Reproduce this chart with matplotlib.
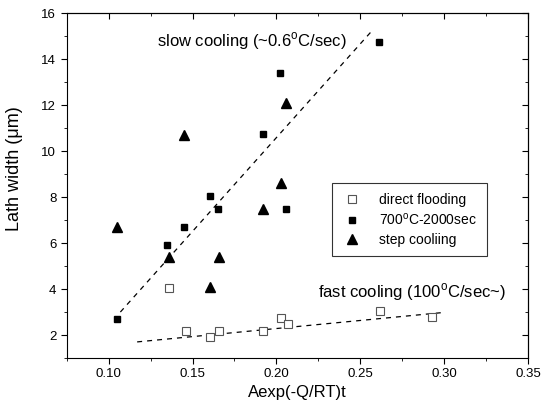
import matplotlib
matplotlib.use('Agg')
import matplotlib.pyplot as plt
from matplotlib.ticker import MultipleLocator

plt.rcParams['font.family'] = ['Liberation Sans', 'DejaVu Sans']
plt.rcParams['mathtext.fontset'] = 'custom'
plt.rcParams['mathtext.rm'] = 'Liberation Sans'

# direct flooding (open squares)
flood_x = [0.136, 0.146, 0.1605, 0.166, 0.192, 0.203, 0.207, 0.262, 0.2925]
flood_y = [4.05, 2.17, 1.93, 2.19, 2.19, 2.75, 2.48, 3.04, 2.8]

# 700C-2000sec (filled squares)
iso_x = [0.105, 0.135, 0.145, 0.1605, 0.165, 0.192, 0.202, 0.206, 0.261]
iso_y = [2.7, 5.9, 6.7, 8.05, 7.5, 10.75, 13.4, 7.5, 14.75]

# step cooling (triangles)
step_x = [0.105, 0.136, 0.145, 0.1605, 0.1655, 0.192, 0.2025, 0.206]
step_y = [6.7, 5.4, 10.7, 4.1, 5.4, 7.5, 8.6, 12.1]

# dashed trend lines (end points)
slow_fit_x = [0.107, 0.2565]
slow_fit_y = [3.0, 15.2]
fast_fit_x = [0.117, 0.2995]
fast_fit_y = [1.7, 2.98]

fig = plt.figure(figsize=(5.48, 4.07), dpi=100)
ax = fig.add_axes([0.1217, 0.1204, 0.8418, 0.8469])

ax.plot(slow_fit_x, slow_fit_y, color='black', lw=0.9, ls=(0, (4, 4)))
ax.plot(fast_fit_x, fast_fit_y, color='black', lw=0.9, ls=(0, (4, 4)))

ax.plot(flood_x, flood_y, ls='none', marker='s', ms=5.5, mfc='white',
        mec='#555555', mew=0.8, label='direct flooding')
ax.plot(iso_x, iso_y, ls='none', marker='s', ms=5, color='black',
        label=r'700$^{\mathrm{o}}$C-2000sec')
ax.plot(step_x, step_y, ls='none', marker='^', ms=6.5, color='black',
        label='step cooliing')

ax.text(0.129, 14.8, r'slow cooling (~0.6$^{\mathrm{o}}$C/sec)', fontsize=12,
        va='center', ha='left')
ax.text(0.2248, 3.85, r'fast cooling (100$^{\mathrm{o}}$C/sec~)', fontsize=12,
        va='center', ha='left')

ax.set_xlim(0.075, 0.35)
ax.set_ylim(1, 16)
ax.xaxis.set_major_locator(MultipleLocator(0.05))
ax.xaxis.set_minor_locator(MultipleLocator(0.025))
ax.yaxis.set_major_locator(MultipleLocator(2))
ax.yaxis.set_minor_locator(MultipleLocator(1))
ax.set_xticks([0.10, 0.15, 0.20, 0.25, 0.30, 0.35])
ax.set_xticklabels(['0.10', '0.15', '0.20', '0.25', '0.30', '0.35'])
ax.tick_params(which='major', direction='out', length=4, labelsize=9.5)
ax.tick_params(which='minor', direction='out', length=2.5)

top = ax.secondary_xaxis('top')
top.xaxis.set_major_locator(MultipleLocator(0.05))
top.xaxis.set_minor_locator(MultipleLocator(0.025))
top.tick_params(which='major', direction='in', length=4, labeltop=False)
top.tick_params(which='minor', direction='in', length=2.5)
right = ax.secondary_yaxis('right')
right.yaxis.set_major_locator(MultipleLocator(2))
right.yaxis.set_minor_locator(MultipleLocator(1))
right.tick_params(which='major', direction='in', length=4, labelright=False)
right.tick_params(which='minor', direction='in', length=2.5)

ax.set_xlabel('Aexp(-Q/RT)t', fontsize=12, labelpad=3)
ax.set_ylabel('Lath width (\u03bcm)', fontsize=13)
ax.yaxis.set_label_coords(-0.095, 0.55)

leg = ax.legend(loc='upper left', bbox_to_anchor=(0.5745, 0.507), fontsize=10,
                frameon=True, fancybox=False, edgecolor='black',
                borderaxespad=0, borderpad=0.7, labelspacing=0.35,
                handlelength=1.5, handletextpad=1.2)
leg.get_frame().set_linewidth(0.8)

fig.savefig('out.png', dpi=100)
